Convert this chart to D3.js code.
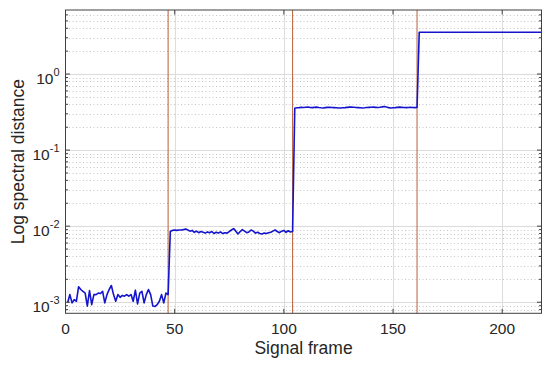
<!DOCTYPE html>
<html>
<head>
<meta charset="utf-8">
<script src="https://cdn.jsdelivr.net/npm/d3@7"></script>
<style>
  body { margin: 0; background: #fff; }
  text { font-family: "Liberation Sans", Arial, Helvetica, sans-serif; fill: #262626; }
</style>
</head>
<body>
<svg id="chart" width="550" height="368"></svg>
<script>
// frames 1..47
const seg1 = [0.00099,0.00126,0.00098,0.00108,0.00103,0.00160,0.00147,0.00139,0.00132,0.00089,
  0.00142,0.00093,0.00126,0.00126,0.00132,0.00130,0.00139,0.00098,0.00126,0.00147,
  0.00166,0.00126,0.00103,0.00126,0.00116,0.00123,0.00120,0.00126,0.00120,0.00126,
  0.00103,0.00144,0.00095,0.00132,0.00139,0.00098,0.00126,0.00147,0.00126,0.00089,
  0.00088,0.00093,0.00103,0.00126,0.00098,0.00132,0.00126];
// frames 48..104
const seg2 = [0.0086,0.0088,0.0089,0.0088,0.0089,0.0089,0.0090,0.0092,0.0089,0.0086,
  0.0088,0.0083,0.0086,0.0082,0.0085,0.0083,0.0081,0.0084,0.0082,0.0085,
  0.0080,0.0083,0.0081,0.0084,0.0080,0.0082,0.0081,0.0085,0.0089,0.0093,
  0.0086,0.0079,0.0085,0.0090,0.0086,0.0082,0.0084,0.0089,0.0086,0.0081,
  0.0083,0.0080,0.0079,0.0081,0.0080,0.0082,0.0083,0.0086,0.0089,0.0085,
  0.0082,0.0086,0.0088,0.0083,0.0087,0.0084,0.0085];
// frames 105..161
const seg3 = [0.355,0.360,0.362,0.365,0.363,0.366,0.368,0.364,0.362,0.365,
  0.367,0.363,0.360,0.358,0.362,0.365,0.366,0.364,0.362,0.360,
  0.358,0.357,0.360,0.362,0.365,0.367,0.368,0.366,0.364,0.362,
  0.360,0.358,0.360,0.363,0.365,0.366,0.367,0.365,0.363,0.366,
  0.370,0.375,0.368,0.362,0.358,0.360,0.362,0.365,0.367,0.365,
  0.363,0.362,0.364,0.366,0.364,0.362,0.364];
// frames 162..218
const seg4 = [3.55,3.55,3.55,3.55,3.55,3.55,3.55,3.55,3.55,3.55,
  3.55,3.55,3.55,3.55,3.55,3.55,3.55,3.55,3.55,3.55,
  3.55,3.55,3.55,3.55,3.55,3.55,3.55,3.55,3.55,3.55,
  3.55,3.55,3.55,3.55,3.55,3.55,3.55,3.55,3.55,3.55,
  3.55,3.55,3.55,3.55,3.55,3.55,3.55,3.55,3.55,3.55,
  3.55,3.55,3.55,3.55,3.55,3.55,3.55];
const changeFrames = [47, 104, 161];
const xTicks = [0, 50, 100, 150, 200];
const yExponents = [-3, -2, -1, 0];

const svg = d3.select("#chart");
const margin = {top: 10, right: 8.5, bottom: 54.7, left: 65.5};
const width = +svg.attr("width");
const height = +svg.attr("height");
const x0 = margin.left, x1 = width - margin.right;
const y0 = margin.top, y1 = height - margin.bottom;

const data = seg1.concat(seg2, seg3, seg4).map((v, i) => ({frame: i + 1, value: v}));

const x = d3.scaleLinear().domain([0, 218]).range([x0, x1]);
const y = d3.scaleLog().domain([7.15e-4, 6.95]).range([y1, y0]);

// minor log values inside the domain
const minorVals = [];
for (let e = -4; e <= 0; e++) {
  for (let m = 2; m <= 9; m++) {
    const v = m * Math.pow(10, e);
    if (v >= y.domain()[0] && v <= y.domain()[1]) minorVals.push(v);
  }
}
const majorVals = yExponents.map(e => Math.pow(10, e));

const grid = svg.append("g");
grid.selectAll(".minor")
  .data(minorVals)
  .enter().append("line")
    .attr("x1", x0).attr("x2", x1)
    .attr("y1", d => Math.round(y(d)) + 0.5).attr("y2", d => Math.round(y(d)) + 0.5)
    .attr("stroke", "#c4c4c4")
    .attr("stroke-width", 1)
    .attr("stroke-dasharray", "1,2.5");
grid.selectAll(".major")
  .data(majorVals)
  .enter().append("line")
    .attr("x1", x0).attr("x2", x1)
    .attr("y1", d => Math.round(y(d)) + 0.5).attr("y2", d => Math.round(y(d)) + 0.5)
    .attr("stroke", "#dcdcdc");
grid.selectAll(".xgrid")
  .data(xTicks.slice(1))
  .enter().append("line")
    .attr("x1", d => Math.round(x(d)) + 0.5).attr("x2", d => Math.round(x(d)) + 0.5)
    .attr("y1", y0).attr("y2", y1)
    .attr("stroke", "#dcdcdc");

// change markers
svg.append("g").selectAll("line")
  .data(changeFrames)
  .enter().append("line")
    .attr("x1", d => x(d)).attr("x2", d => x(d))
    .attr("y1", y0).attr("y2", y1)
    .attr("stroke", "#b8613a")
    .attr("stroke-width", 1);

// signal line
const line = d3.line()
  .x(d => x(d.frame))
  .y(d => y(d.value));
svg.append("path")
  .datum(data)
  .attr("fill", "none")
  .attr("stroke", "#1414cc")
  .attr("stroke-width", 1.6)
  .attr("stroke-linejoin", "round")
  .attr("d", line);

// box and ticks
const axisColor = "#404040";
svg.append("rect")
  .attr("x", x0).attr("y", y0)
  .attr("width", x1 - x0).attr("height", y1 - y0)
  .attr("fill", "none")
  .attr("stroke", axisColor)
  .attr("stroke-width", 1);

const ticks = svg.append("g").attr("stroke", axisColor);
xTicks.forEach(t => {
  ticks.append("line").attr("x1", x(t)).attr("x2", x(t)).attr("y1", y1).attr("y2", y1 - 4.5);
  ticks.append("line").attr("x1", x(t)).attr("x2", x(t)).attr("y1", y0).attr("y2", y0 + 4.5);
});
majorVals.forEach(v => {
  ticks.append("line").attr("x1", x0).attr("x2", x0 + 4.5).attr("y1", y(v)).attr("y2", y(v));
  ticks.append("line").attr("x1", x1).attr("x2", x1 - 4.5).attr("y1", y(v)).attr("y2", y(v));
});
minorVals.forEach(v => {
  ticks.append("line").attr("x1", x0).attr("x2", x0 + 2.5).attr("y1", y(v)).attr("y2", y(v));
  ticks.append("line").attr("x1", x1).attr("x2", x1 - 2.5).attr("y1", y(v)).attr("y2", y(v));
});

// tick labels
svg.append("g").selectAll("text")
  .data(xTicks)
  .enter().append("text")
    .attr("x", d => x(d))
    .attr("y", y1 + 21)
    .attr("text-anchor", "middle")
    .style("font-size", "15.5px")
    .text(d => d);

const yl = svg.append("g").selectAll("text")
  .data(yExponents)
  .enter().append("text")
    .attr("x", x0 - 6)
    .attr("y", d => y(Math.pow(10, d)) + 10)
    .attr("text-anchor", "end")
    .style("font-size", "15.5px");
yl.append("tspan").text("10");
yl.append("tspan")
  .attr("dy", -8)
  .style("font-size", "11px")
  .text(d => String(d));

// axis titles
svg.append("text")
  .attr("x", (x0 + x1) / 2)
  .attr("y", y1 + 41)
  .attr("text-anchor", "middle")
  .style("font-size", "17.5px")
  .text("Signal frame");

svg.append("text")
  .attr("transform", "translate(" + 24 + "," + ((y0 + y1) / 2) + ") rotate(-90)")
  .attr("text-anchor", "middle")
  .style("font-size", "17.5px")
  .text("Log spectral distance");
</script>
</body>
</html>
